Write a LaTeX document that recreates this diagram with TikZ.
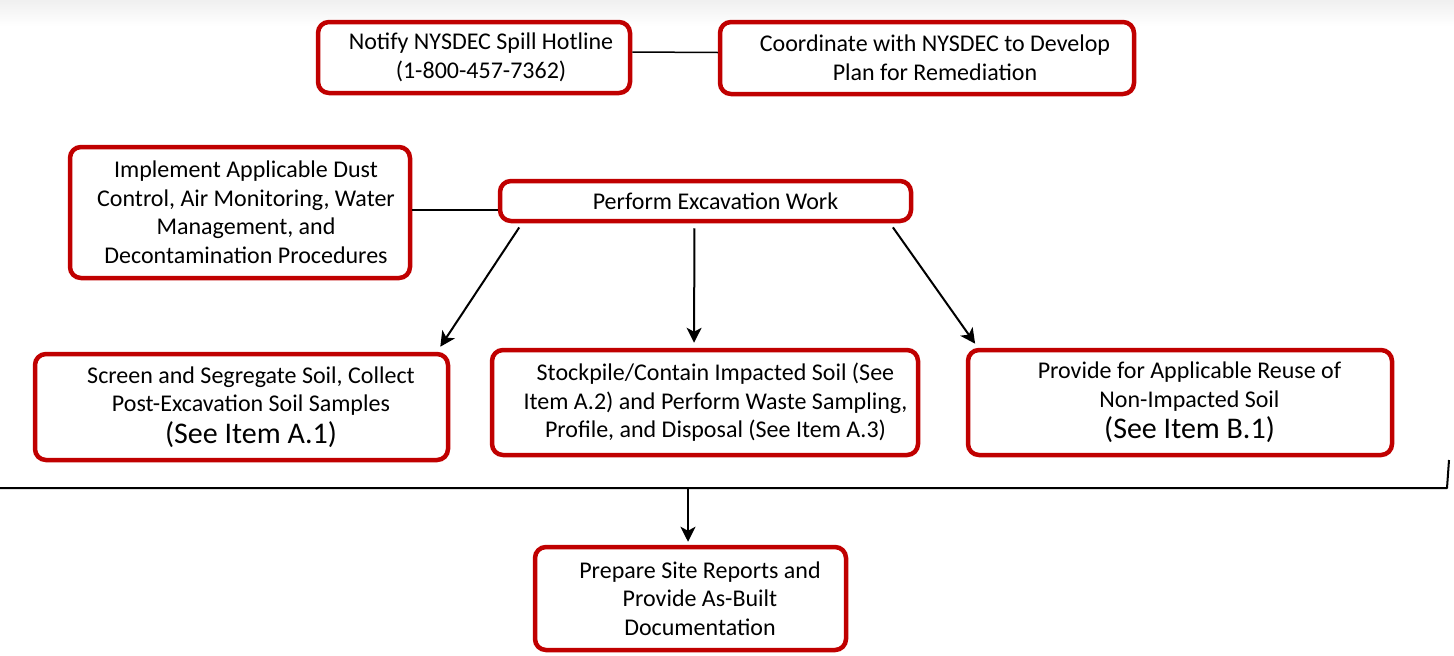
\documentclass[tikz,border=0pt]{standalone}
\usepackage{fontspec}
\setmainfont{Carlito}
\usetikzlibrary{arrows.meta}
\definecolor{boxred}{HTML}{C00000}
\newcommand{\shft}[1]{\hspace*{#1pt}}
\begin{document}
\begin{tikzpicture}[x=1pt,y=-1pt,
  box/.style={draw=boxred, line width=4.5pt, rounded corners=11pt, fill=white,
    align=center, inner sep=0pt, font=\fontsize{24}{28.5}\selectfont},
  link/.style={draw=black, line width=1.5pt},
  flow/.style={draw=black, line width=2pt, -{Stealth[length=15pt,width=15pt,inset=4pt]}}]
\useasboundingbox (0,0) rectangle (1454,656);
\shade[top color=black!6, bottom color=white] (0,0) rectangle (1454,26);
\node[box, minimum width=312pt, minimum height=71pt] (n1) at (474,57.5)
  {\shft{14}Notify NYSDEC Spill Hotline\\\shft{14}(1-800-457-7362)};
\node[box, minimum width=414pt, minimum height=72pt] (n2) at (927,58)
  {\shft{16}Coordinate with NYSDEC to Develop\\\shft{16}Plan for Remediation};
\node[box, minimum width=340pt, minimum height=131pt] (n3) at (240,212.5)
  {\shft{12}Implement Applicable Dust\\\shft{12}Control, Air Monitoring, Water\\\shft{12}Management, and\\\shft{12}Decontamination Procedures};
\node[box, minimum width=411pt, minimum height=40pt] (n4) at (705.5,201)
  {\shft{20}Perform Excavation Work};
\node[box, minimum width=413pt, minimum height=106pt] (n5) at (241.5,407)
  {\shft{19}Screen and Segregate Soil, Collect\\\shft{19}Post-Excavation Soil Samples\\[3pt]{\fontsize{30}{34}\selectfont\shft{19}(See Item A.1)}};
\node[box, minimum width=426pt, minimum height=105pt] (n6) at (705,402.5)
  {\shft{21}Stockpile/Contain Impacted Soil (See\\\shft{21}Item A.2) and Perform Waste Sampling,\\\shft{21}Profile, and Disposal (See Item A.3)};
\node[box, minimum width=424pt, minimum height=105pt] (n7) at (1180,402.5)
  {\shft{19}Provide for Applicable Reuse of\\\shft{19}Non-Impacted Soil\\[3pt]{\fontsize{30}{34}\selectfont\shft{19}(See Item B.1)}};
\node[box, minimum width=311pt, minimum height=103pt] (n8) at (690.5,598.5)
  {\shft{19}Prepare Site Reports and\\\shft{19}Provide As-Built\\\shft{19}Documentation};
\draw[link] ([yshift=5.5pt]n1.east) -- ([yshift=5.5pt]n2.west);
\draw[link] ([yshift=2.5pt]n3.east) -- ([yshift=-9pt]n4.west);
\draw[flow, shorten <=5pt, shorten >=6pt] ([xshift=-183.5pt]n4.south) -- ([xshift=195.5pt]n5.north);
\draw[flow, shorten <=5pt, shorten >=5pt] ([xshift=-11pt]n4.south) -- ([xshift=-11pt]n6.north);
\draw[flow, shorten <=5pt, shorten >=5pt] ([xshift=184.5pt]n4.south) -- ([xshift=-202pt]n7.north);
\coordinate (bl) at (0,488);
\coordinate (br) at (1447,488);
\coordinate (bt) at (1449,460);
\coordinate (bm) at (688,488);
\draw[link, line width=2pt, line join=round] (bl) -- (br) -- (bt);
\draw[flow, shorten >=3pt] (bm) -- (bm |- n8.north);
\end{tikzpicture}
\end{document}
